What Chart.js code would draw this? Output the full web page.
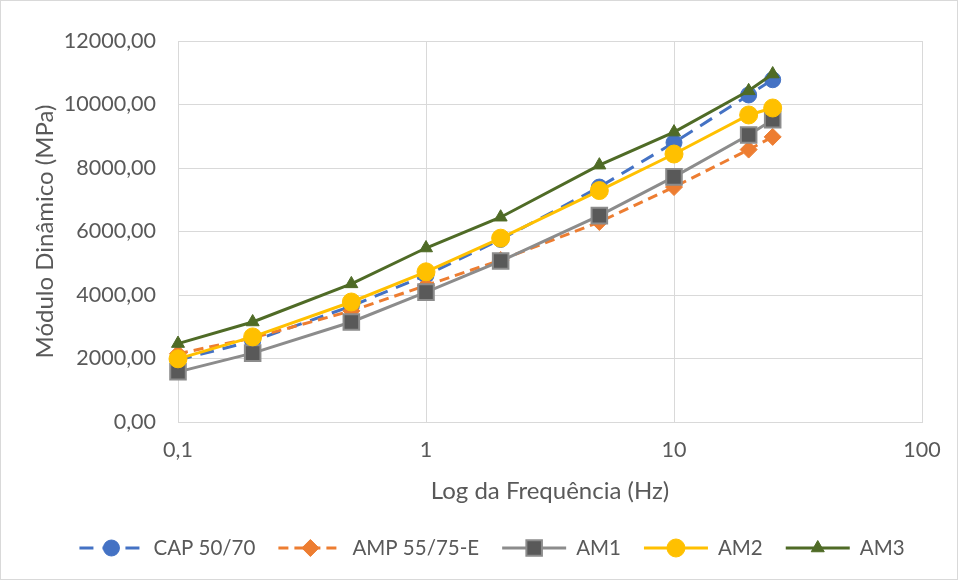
<!DOCTYPE html>
<html>
<head>
    <title>Módulo Dinâmico x Frequência</title>
    <script src="https://cdn.jsdelivr.net/npm/chart.js"></script>
    <style>
        body { margin: 0; background: #fff; }
    </style>
</head>
<body>
    <canvas id="moduloChart" width="958" height="580"></canvas>
    <script>
        // frequências de ensaio (Hz) e módulo dinâmico (MPa) de cada ligante
        const frequencias = [0.1, 0.2, 0.5, 1, 2, 5, 10, 20, 25];
        const cap5070 = [1950, 2550, 3650, 4620, 5750, 7400, 8800, 10300, 10780];
        const amp5575 = [2150, 2650, 3500, 4300, 5100, 6300, 7400, 8580, 8980];
        const am1 = [1580, 2170, 3150, 4090, 5070, 6500, 7720, 9040, 9520];
        const am2 = [1990, 2680, 3780, 4730, 5790, 7290, 8440, 9670, 9890];
        const am3 = [2470, 3150, 4350, 5480, 6450, 8090, 9130, 10430, 10960];
        const ticksX = [0.1, 1, 10, 100];

        const fonte = "Lato, 'Noto Sans', sans-serif";
        const cinza = '#595959';

        function pontos(valores) {
            return frequencias.map((f, i) => ({ x: f, y: valores[i] }));
        }

        function serie(label, valores, cor, estilo, raio, extra) {
            return Object.assign({
                label: label,
                data: pontos(valores),
                borderColor: cor,
                backgroundColor: cor,
                pointBackgroundColor: cor,
                pointBorderColor: cor,
                pointStyle: estilo,
                pointRadius: raio,
                pointHoverRadius: raio,
                pointBorderWidth: 1,
                borderWidth: 3,
                tension: 0,
                clip: false
            }, extra || {});
        }

        const datasets = [
            serie('CAP 50/70', cap5070, '#4472C4', 'circle', 8, { borderDash: [14, 9], order: 5 }),
            serie('AMP 55/75-E', amp5575, '#ED7D31', 'rectRot', 8.5, { borderDash: [10, 6], order: 4 }),
            serie('AM1', am1, '#8C8C8C', 'rect', 11, { pointBackgroundColor: '#595959', pointBorderColor: '#8C8C8C', pointBorderWidth: 2, order: 3 }),
            serie('AM2', am2, '#FFC000', 'circle', 9, { order: 2 }),
            serie('AM3', am3, '#4F6B26', 'triangle', 7.5, { order: 1 })
        ];

        // legenda desenhada à mão: linha com o marcador no meio
        const legendaPlugin = {
            id: 'legendaLinha',
            afterDraw(chart) {
                const ctx = chart.ctx;
                const y = 548;
                const compLinha = 64, gapTexto = 10, gapItem = 23;
                ctx.save();
                ctx.font = '20.5px ' + fonte;
                const itens = chart.data.datasets.map(ds => ({ ds: ds, w: ctx.measureText(ds.label).width }));
                const total = itens.reduce((s, it) => s + compLinha + gapTexto + it.w, 0) + gapItem * (itens.length - 1);
                let x = 492 - total / 2;
                itens.forEach(it => {
                    const ds = it.ds;
                    ctx.strokeStyle = ds.borderColor;
                    ctx.lineWidth = ds.borderWidth;
                    ctx.setLineDash(ds.borderDash || []);
                    ctx.beginPath();
                    ctx.moveTo(x, y);
                    ctx.lineTo(x + compLinha, y);
                    ctx.stroke();
                    ctx.setLineDash([]);
                    ctx.fillStyle = ds.pointBackgroundColor;
                    ctx.strokeStyle = ds.pointBorderColor;
                    ctx.lineWidth = ds.pointBorderWidth;
                    Chart.helpers.drawPoint(ctx, { pointStyle: ds.pointStyle, radius: ds.pointRadius, borderWidth: ds.pointBorderWidth, rotation: 0 }, x + compLinha / 2, y);
                    ctx.fillStyle = cinza;
                    ctx.textBaseline = 'middle';
                    ctx.textAlign = 'left';
                    ctx.fillText(ds.label, x + compLinha + gapTexto, y);
                    x += compLinha + gapTexto + it.w + gapItem;
                });
                // moldura do gráfico
                ctx.strokeStyle = '#D9D9D9';
                ctx.lineWidth = 1;
                ctx.strokeRect(0.5, 0.5, chart.width - 1, chart.height - 1);
                ctx.restore();
            }
        };

        new Chart(document.getElementById('moduloChart'), {
            type: 'line',
            data: { datasets: datasets },
            plugins: [legendaPlugin],
            options: {
                responsive: false,
                devicePixelRatio: 1,
                animation: false,
                layout: { padding: { left: 27, top: 41, right: 36, bottom: 70 } },
                plugins: {
                    legend: { display: false },
                    tooltip: { enabled: false }
                },
                scales: {
                    x: {
                        type: 'logarithmic',
                        min: 0.1,
                        max: 100,
                        afterBuildTicks: scale => { scale.ticks = ticksX.map(v => ({ value: v })); },
                        afterFit: scale => { scale.height = 88; },
                        ticks: {
                            color: cinza,
                            font: { family: fonte, size: 21.5 },
                            padding: 15,
                            maxRotation: 0,
                            callback: v => String(v).replace('.', ',')
                        },
                        grid: { color: '#D9D9D9', drawTicks: false },
                        border: { color: '#D9D9D9' },
                        title: {
                            display: true,
                            text: 'Log da Frequência (Hz)',
                            color: cinza,
                            font: { family: fonte, size: 24 }
                        }
                    },
                    y: {
                        min: 0,
                        max: 12000,
                        afterFit: scale => { scale.width = 151; },
                        ticks: {
                            stepSize: 2000,
                            color: cinza,
                            font: { family: fonte, size: 21.5 },
                            padding: 22,
                            callback: v => v.toFixed(2).replace('.', ',')
                        },
                        grid: { color: '#D9D9D9', drawTicks: false },
                        border: { display: false },
                        title: {
                            display: true,
                            text: 'Módulo Dinâmico (MPa)',
                            color: cinza,
                            font: { family: fonte, size: 24 }
                        }
                    }
                }
            }
        });
    </script>
</body>
</html>
